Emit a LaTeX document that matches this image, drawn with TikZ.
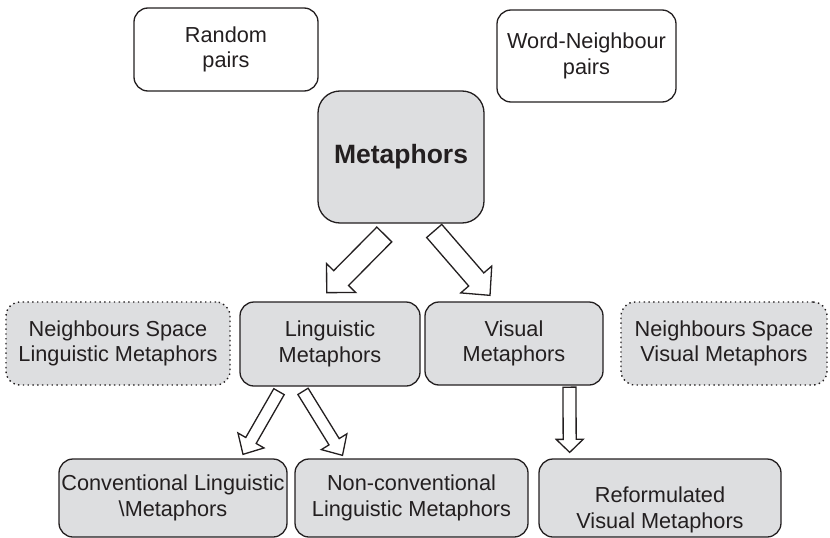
\documentclass[tikz,border=0pt]{standalone}
\usepackage{fontspec}
\setmainfont{Liberation Sans}
\usetikzlibrary{calc}
\definecolor{boxfill}{RGB}{221,222,224}
\definecolor{ink}{RGB}{35,31,32}
\tikzset{
  base/.style={draw=ink, text=ink, line width=1.3pt, rounded corners=14pt, align=center,
    font=\fontsize{21.7}{25.5}\selectfont, inner sep=0pt, anchor=center},
  plainbox/.style={base, fill=white},
  greybox/.style={base, fill=boxfill},
  dotbox/.style={base, fill=boxfill, line width=1.4pt, dash pattern=on 1.4pt off 3.4pt},
  barrow/.style={draw=ink, fill=white, line width=1.3pt, line join=miter}
}
% #1 tail, #2 tip, #3 half shaft width, #4 half head width, #5 head length
\newcommand\blockarrow[5]{%
  \draw[barrow]
    ($(#1)!#3!90:(#2)$) --
    ($(#2)!#5!(#1)!#3!-90:(#1)$) --
    ($(#2)!#5!(#1)!#4!-90:(#1)$) --
    (#2) --
    ($(#2)!#5!(#1)!#4!90:(#1)$) --
    ($(#2)!#5!(#1)!#3!90:(#1)$) --
    ($(#1)!#3!-90:(#2)$) -- cycle;}
\begin{document}
\begin{tikzpicture}[x=1pt,y=-1pt]
\useasboundingbox (0,0) rectangle (830,538);
% top row
\node[plainbox, minimum width=184pt, minimum height=83pt] (rp) at (226,49.5) {Random\\pairs};
\node[plainbox, minimum width=179pt, minimum height=92pt] (wn) at (586.5,56) {Word-Neighbour\\pairs};
\node[greybox, rounded corners=22pt, minimum width=166pt, minimum height=132pt,
      font=\fontsize{26.5}{30}\selectfont\bfseries] (met) at (401,157) {Metaphors};
% middle row
\node[dotbox, minimum width=224pt, minimum height=83pt] (nsl) at (118,343.5) {Neighbours Space\\Linguistic Metaphors};
\node[greybox, minimum width=180pt, minimum height=84pt] (lin) at (330,344) {Linguistic\\Metaphors};
\node[greybox, minimum width=178pt, minimum height=83pt] (vis) at (514,343.5) {Visual\\Metaphors};
\node[dotbox, minimum width=206pt, minimum height=83pt] (nsv) at (724,343.5) {Neighbours Space\\Visual Metaphors};
% bottom row
\node[greybox, minimum width=228pt, minimum height=78pt] (conv) at (173,498) {Conventional Linguistic\\\textbackslash Metaphors};
\node[greybox, minimum width=233pt, minimum height=78pt] (nonc) at (411.5,498) {Non-conventional\\Linguistic Metaphors};
\node[greybox, minimum width=242pt, minimum height=78pt, text depth=0pt] (ref) at (660,498) {\raisebox{-4pt}{\begin{tabular}{@{}c@{}}Reformulated\\Visual Metaphors\end{tabular}}};
% arrow end points
\coordinate (t1) at ($(met.south)+(-16.7,10.8)$);
\coordinate (p1) at ($(lin.north)+(-3.3,-8.7)$);
\coordinate (t2) at ($(met.south)+(33.2,7.3)$);
\coordinate (p2) at ($(vis.north)+(-24,-6)$);
\coordinate (t3) at ($(lin.south)+(-51,5)$);
\coordinate (p3) at ($(conv.north)+(70,-4)$);
\coordinate (t4) at ($(lin.south)+(-27,4.7)$);
\coordinate (p4) at ($(nonc.north)+(-69,-3)$);
\coordinate (t5) at ($(vis.south)+(55.5,1.5)$);
\coordinate (p5) at ($(ref.north)+(-90.3,-6)$);
\blockarrow{t1}{p1}{10.5pt}{20.5pt}{20.5pt}
\blockarrow{t2}{p2}{10pt}{20.5pt}{21pt}
\blockarrow{t3}{p3}{6pt}{15pt}{16pt}
\blockarrow{t4}{p4}{6pt}{15pt}{16pt}
\blockarrow{t5}{p5}{6.5pt}{13.5pt}{13pt}
\end{tikzpicture}
\end{document}
